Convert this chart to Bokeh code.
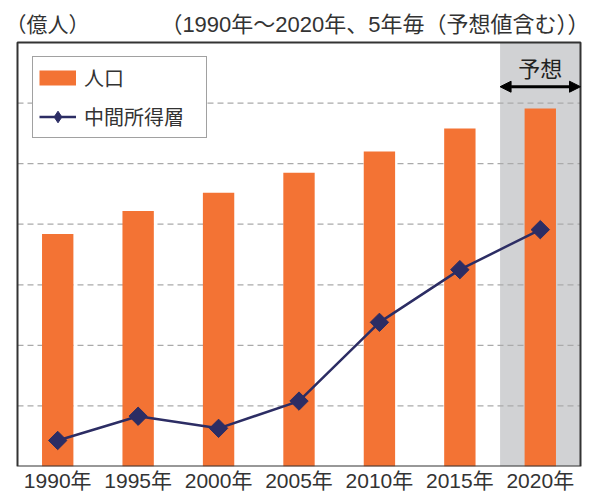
import math
from bokeh.plotting import figure
from bokeh.models import (Range1d, FixedTicker, Label, Arrow, NormalHead,
                          Legend, LegendItem)
from bokeh.embed import file_html
from bokeh.resources import INLINE

years = ["1990年", "1995年", "2000年", "2005年", "2010年", "2015年", "2020年"]
population = [38.4, 42.2, 45.2, 48.5, 52.0, 55.8, 59.1]
middle_class = [4.3, 8.3, 6.3, 10.8, 23.8, 32.5, 39.1]
forecast_index = [6]          # 2020年 is the forecast
grid_ticks = [10, 20, 30, 40, 50, 60]
y_max = 70

FONT = "'Liberation Sans', 'Noto Sans CJK JP'"
ORANGE = "#f37334"
NAVY = "#2c2d64"
GREY = "#d1d2d4"
TXT = "#333333"

n = len(years)
xs = [i + 0.5 for i in range(n)]          # category centres
NAN = float("nan")

# layout: chart box spans page x 17..580, y 42..466 ; frame covers whole canvas
PX_X = 563 / n
PX_Y = 424 / y_max
x_range = Range1d(-17 / PX_X, n + 11 / PX_X)
y_range = Range1d(0, y_max + 42 / PX_Y)

p = figure(x_range=x_range, y_range=y_range, frame_width=591, frame_height=466,
           output_backend="svg", toolbar_location=None,
           min_border_left=0, min_border_right=0, min_border_top=0,
           min_border_bottom=29)
p.outline_line_color = None
p.yaxis.visible = False
p.xgrid.visible = False
p.ygrid.visible = False

# forecast shading
p.vbar(x=[xs[i] for i in forecast_index], top=y_max, width=1.0, color=GREY,
       line_color=None)
# dashed grid lines across the chart box
p.segment(x0=0, x1=n, y0=grid_ticks, y1=grid_ticks, line_color="#aaaaaa",
          line_dash="6 4", line_width=1.2)

bars = p.vbar(x=xs, top=population, width=0.39, fill_color=ORANGE, line_color=None)
line = p.line(x=xs, y=middle_class, line_color=NAVY, line_width=2.5)
pts = p.scatter(x=xs, y=middle_class, marker="square", angle=math.pi / 4,
                size=13, fill_color=NAVY, line_color=NAVY)

# legend-only proxies (not drawn: NaN values)
swatch = p.line(x=xs, y=[NAN] * n, line_color=ORANGE, line_width=15)
dia = p.scatter(x=xs, y=[NAN] * n, marker="diamond", fill_color=NAVY,
                line_color=NAVY)

# chart border
p.quad(left=0, right=n, bottom=0, top=y_max, fill_color=None,
       line_color="#333333", line_width=2)

legend = Legend(items=[LegendItem(label="人口", renderers=[swatch]),
                       LegendItem(label="中間所得層", renderers=[line, dia])],
                location=(32, 328), margin=0, padding=6, spacing=10,
                glyph_width=37, glyph_height=29, label_standoff=8,
                label_width=116,
                label_text_font=FONT, label_text_font_size="20px",
                label_text_color=TXT, border_line_color="#444444",
                border_line_width=1.5, background_fill_alpha=1.0)
p.add_layout(legend, "center")

p.xaxis.ticker = FixedTicker(ticks=xs)
p.xaxis.major_label_overrides = {x: y for x, y in zip(xs, years)}
p.xaxis.axis_line_color = None
p.xaxis.major_tick_line_color = None
p.xaxis.major_tick_out = 0
p.xaxis.major_tick_in = 0
p.xaxis.minor_tick_line_color = None
p.xaxis.major_label_standoff = 2
p.xaxis.major_label_text_font = FONT
p.xaxis.major_label_text_font_size = "21px"
p.xaxis.major_label_text_color = TXT

title_y = y_max + 18 / PX_Y
p.add_layout(Label(x=-12 / PX_X, y=title_y, text="（億人）", text_align="left",
                   text_baseline="middle", text_font=FONT, text_font_size="21px",
                   text_color=TXT))
p.add_layout(Label(x=n + 9 / PX_X, y=title_y,
                   text="（1990年～2020年、5年毎（予想値含む））",
                   text_align="right", text_baseline="middle", text_font=FONT,
                   text_font_size="22px", text_color=TXT))
p.add_layout(Label(x=n - 0.5, y=y_max - 4.4, text="予想", text_align="center",
                   text_baseline="middle", text_font=FONT, text_font_size="22px",
                   text_color="#222222"))
p.add_layout(Arrow(x_start=n - 1, x_end=n, y_start=y_max - 7.3, y_end=y_max - 7.3,
                   line_color="black", line_width=3,
                   start=NormalHead(size=11, fill_color="black", line_color="black"),
                   end=NormalHead(size=11, fill_color="black", line_color="black")))

open("out.html", "w").write(file_html(p, INLINE))
